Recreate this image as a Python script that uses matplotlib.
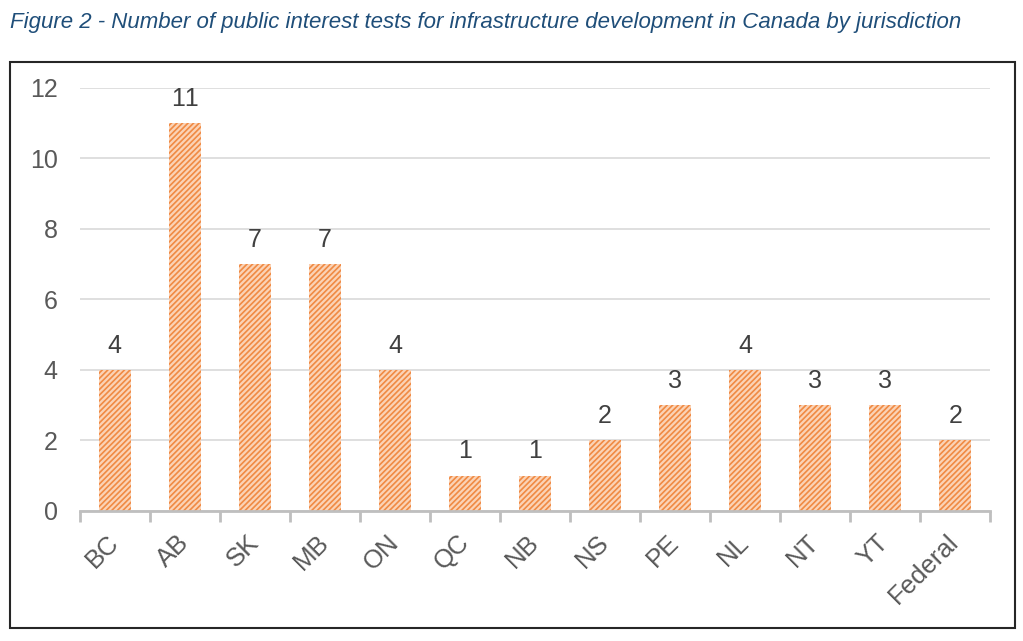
import matplotlib.pyplot as plt
from matplotlib.patches import Rectangle

plt.rcParams['font.family'] = ['Liberation Sans', 'DejaVu Sans']
plt.rcParams['hatch.linewidth'] = 1.2
plt.rcParams['text.kerning_factor'] = 6  # avoid the tight "11" kerning pair

jurisdictions = ['BC', 'AB', 'SK', 'MB', 'ON', 'QC', 'NB', 'NS', 'PE', 'NL', 'NT', 'YT', 'Federal']
tests = [4, 11, 7, 7, 4, 1, 1, 2, 3, 4, 3, 3, 2]
y_ticks = [0, 2, 4, 6, 8, 10, 12]

fig = plt.figure(figsize=(10.23, 6.41), dpi=100)
ax = fig.add_axes([0.078, 0.203, 0.89, 0.66])

x = list(range(len(jurisdictions)))
ax.bar(x, tests, width=0.46, color='#fbd3b6', edgecolor='#f08a43',
       hatch='//////', linewidth=0, zorder=3)

for xi, v in zip(x, tests):
    ax.text(xi, v + 0.35, str(v), ha='center', va='bottom', fontsize=18,
            color='#404040', clip_on=False)

ax.set_xlim(-0.5, len(jurisdictions) - 0.5)
ax.set_ylim(0, 12)
ax.set_yticks(y_ticks)
ax.set_yticklabels([str(t) for t in y_ticks], fontsize=18, color='#595959')
ax.set_xticks(x)
ax.set_xticklabels(jurisdictions, fontsize=18.5, color='#595959', rotation=45,
                   ha='right', va='center', rotation_mode='anchor')
ax.set_xticks([i - 0.5 for i in range(len(jurisdictions) + 1)], minor=True)
ax.tick_params(axis='x', which='major', length=0, pad=20)
ax.tick_params(axis='x', which='minor', length=8, width=2, color='#bfbfbf')
ax.tick_params(axis='y', length=0, pad=16)

ax.grid(axis='y', color='#d9d9d9', linewidth=1.2, zorder=0)
for spine in ['top', 'right', 'left']:
    ax.spines[spine].set_visible(False)
ax.spines['bottom'].set_color('#bfbfbf')
ax.spines['bottom'].set_linewidth(2)
ax.spines['bottom'].set_zorder(4)

# frame round the chart
fig.patches.append(Rectangle((0.010, 0.020), 0.982, 0.884, transform=fig.transFigure,
                             fill=False, edgecolor='#262626', linewidth=1.5))

fig.text(0.010, 0.965, 'Figure 2 - Number of public interest tests for infrastructure development in Canada by jurisdiction',
         fontsize=16, style='italic', color='#1f4e79', ha='left', va='center')

plt.savefig('out.png', dpi=100)
